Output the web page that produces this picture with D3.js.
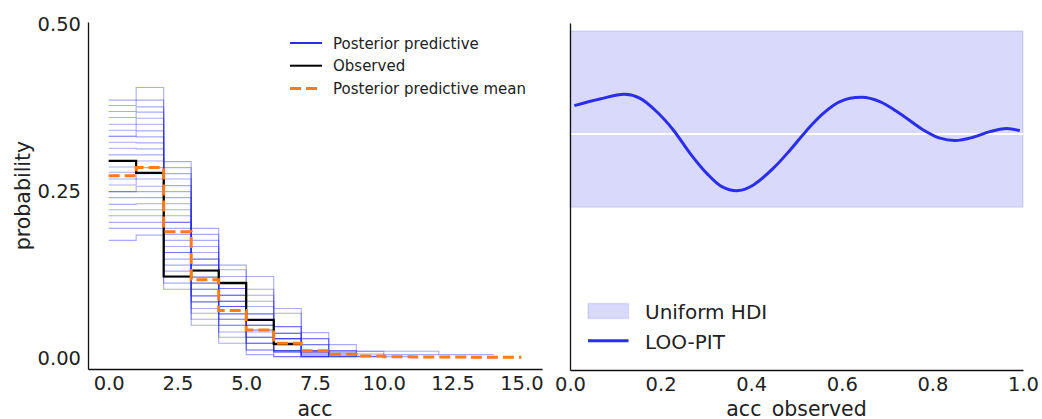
<!DOCTYPE html>
<html>
<head>
<meta charset="utf-8">
<script src="https://cdn.jsdelivr.net/npm/d3@7.9.0/dist/d3.min.js"></script>
<style>
  body { margin: 0; background: #fff; }
  svg text { font-family: "DejaVu Sans", sans-serif; fill: #222; }
</style>
</head>
<body>
<div id="chart"></div>
<script>
// ---- data ----
// observed histogram (bin k covers [k, k+1))
const obsHeights = [0.295, 0.277, 0.122, 0.131, 0.112, 0.057, 0.021];

// posterior predictive mean histogram, bins 0..14
const ppMeanHeights = [0.273, 0.285, 0.189, 0.117, 0.071, 0.042, 0.022, 0.011,
                       0.0055, 0.003, 0.002, 0.0015, 0.0015, 0.001, 0.001];

// posterior predictive draws: one list per bin, draw k = k-th entry (missing = draw ended)
const ppHeights = [
  [0.386, 0.378, 0.369, 0.360, 0.350, 0.341, 0.332, 0.332, 0.323, 0.314, 0.304, 0.286, 0.278, 0.268, 0.259, 0.249, 0.249, 0.240, 0.230, 0.222, 0.213, 0.203, 0.194, 0.176],
  [0.405, 0.386, 0.376, 0.368, 0.359, 0.350, 0.340, 0.331, 0.322, 0.313, 0.304, 0.295, 0.285, 0.276, 0.268, 0.257, 0.249, 0.240, 0.231, 0.222, 0.213, 0.203, 0.194, 0.184],
  [0.294, 0.285, 0.276, 0.268, 0.258, 0.249, 0.240, 0.231, 0.222, 0.213, 0.203, 0.203, 0.194, 0.185, 0.176, 0.167, 0.158, 0.158, 0.148, 0.139, 0.130, 0.121, 0.112, 0.103],
  [0.194, 0.185, 0.176, 0.167, 0.158, 0.148, 0.148, 0.139, 0.139, 0.130, 0.121, 0.121, 0.112, 0.112, 0.103, 0.103, 0.093, 0.093, 0.084, 0.084, 0.074, 0.067, 0.058, 0.049],
  [0.139, 0.132, 0.122, 0.114, 0.104, 0.104, 0.094, 0.094, 0.094, 0.085, 0.085, 0.085, 0.077, 0.077, 0.077, 0.066, 0.066, 0.058, 0.058, 0.049, 0.049, 0.039, 0.031, 0.022],
  [0.122, 0.103, 0.094, 0.085, 0.077, 0.066, 0.066, 0.057, 0.057, 0.049, 0.049, 0.049, 0.042, 0.042, 0.039, 0.031, 0.031, 0.031, 0.022, 0.022, 0.022, 0.012, 0.012, 0.005],
  [0.074, 0.067, 0.047, 0.047, 0.037, 0.037, 0.037, 0.029, 0.029, 0.029, 0.029, 0.020, 0.020, 0.020, 0.020, 0.011, 0.011, 0.011, 0.011, 0.009, 0.009, 0.009, 0.002, 0.002],
  [0.038, 0.029, 0.029, 0.020, 0.020, 0.011, 0.011, 0.011, 0.009, 0.009, 0.009, 0.009, 0.006, 0.006, 0.003, 0.003, 0.002, 0.002, 0.002, 0.002],
  [0.020, 0.011, 0.011, 0.009, 0.009, 0.006, 0.006, 0.003, 0.003, 0.002, 0.002, 0.002],
  [0.010, 0.010, 0.006, 0.003, 0.002, 0.002],
  [0.010, 0.005, 0.002],
  [0.010, 0.005],
  [0.005],
  [0.005]
];
const nDraws = 24;

const accTicks = [0, 2.5, 5, 7.5, 10, 12.5, 15];
const probTicks = [0, 0.25, 0.5];

// LOO-PIT KDE
const looPitX = [0.0096, 0.066, 0.121, 0.155, 0.191, 0.228, 0.265, 0.302, 0.335, 0.372, 0.405, 0.449, 0.486,
                 0.522, 0.559, 0.596, 0.644, 0.684, 0.728, 0.780, 0.817, 0.850, 0.890, 0.927, 0.964, 0.993];
const looPitY = [1.120, 1.148, 1.168, 1.151, 1.095, 1.017, 0.918, 0.833, 0.777, 0.760, 0.784, 0.855, 0.932,
                 1.014, 1.087, 1.137, 1.155, 1.137, 1.087, 1.017, 0.982, 0.972, 0.986, 1.010, 1.023, 1.014];
const uniformHdi = [0.69, 1.436];
const pitTicks = [0, 0.2, 0.4, 0.6, 0.8, 1.0];

// ---- layout ----
const W = 1042, H = 419;
const C0 = "#2a2eec", C1 = "#fa7c17";

const svg = d3.select("#chart").append("svg")
  .attr("width", W).attr("height", H);

// left panel scales
const xL = d3.scaleLinear().domain([-0.75, 15.75]).range([88, 542]);
const yL = d3.scaleLinear().domain([-0.0165, 0.503]).range([369, 22]);

// right panel scales
const xR = d3.scaleLinear().domain([0, 1]).range([570, 1023]);
const yR = d3.scaleLinear().domain([0, 1.47]).range([370, 23]);

function styleAxis(g) {
  g.select(".domain").attr("stroke", "#111").attr("stroke-width", 1.3);
  g.selectAll("text").style("font-size", "19.5px").attr("fill", "#222");
}

// ---- left panel: posterior predictive check ----
const left = svg.append("g");

const stepLine = d3.line()
  .x(d => xL(d[0]))
  .y(d => yL(d[1]))
  .curve(d3.curveStepAfter);

// points for a histogram starting at bin 0: one per bin plus closing edge
function histPoints(heights) {
  const pts = heights.map((h, i) => [i, h]);
  pts.push([heights.length, heights[heights.length - 1]]);
  return pts;
}

d3.range(nDraws).forEach(k => {
  const heights = [];
  for (const bin of ppHeights) {
    if (bin[k] === undefined) break;
    heights.push(bin[k]);
  }
  left.append("path")
    .datum(histPoints(heights))
    .attr("fill", "none")
    .attr("stroke", C0)
    .attr("stroke-opacity", 0.4)
    .attr("stroke-width", 1.1)
    .attr("d", stepLine);
});

left.append("path")
  .datum(histPoints(obsHeights))
  .attr("fill", "none")
  .attr("stroke", "#000")
  .attr("stroke-width", 2.2)
  .attr("d", stepLine);

left.append("path")
  .datum(histPoints(ppMeanHeights))
  .attr("fill", "none")
  .attr("stroke", C1)
  .attr("stroke-width", 3)
  .attr("stroke-dasharray", "11,5")
  .attr("d", stepLine);

left.append("g")
  .attr("transform", "translate(0,369)")
  .call(d3.axisBottom(xL).tickValues(accTicks).tickFormat(d3.format(".1f"))
        .tickSize(0).tickPadding(7))
  .call(styleAxis);

left.append("g")
  .attr("transform", "translate(88,0)")
  .call(d3.axisLeft(yL).tickValues(probTicks).tickFormat(d3.format(".2f"))
        .tickSize(0).tickPadding(7))
  .call(styleAxis);

left.append("text")
  .attr("x", (88 + 542) / 2).attr("y", 416)
  .attr("text-anchor", "middle")
  .style("font-size", "20.5px")
  .text("acc");

left.append("text")
  .attr("transform", `translate(30,${(22 + 369) / 2}) rotate(-90)`)
  .attr("text-anchor", "middle")
  .style("font-size", "20.5px")
  .text("probability");

// left legend
const legL = left.append("g").attr("transform", "translate(290,0)");
const legItems = [
  { label: "Posterior predictive", color: C0, width: 2, dash: null },
  { label: "Observed", color: "#000", width: 2, dash: null },
  { label: "Posterior predictive mean", color: C1, width: 3, dash: "11,5" }
];
legItems.forEach((it, i) => {
  const y = 43 + i * 22.7;
  legL.append("line")
    .attr("x1", 0).attr("x2", 32).attr("y1", y).attr("y2", y)
    .attr("stroke", it.color).attr("stroke-width", it.width)
    .attr("stroke-dasharray", it.dash);
  legL.append("text")
    .attr("x", 43).attr("y", y + 5.5)
    .style("font-size", "15px")
    .text(it.label);
});

// ---- right panel: LOO-PIT ----
const right = svg.append("g");

right.append("rect")
  .attr("x", xR(0)).attr("width", xR(1) - xR(0))
  .attr("y", yR(uniformHdi[1])).attr("height", yR(uniformHdi[0]) - yR(uniformHdi[1]))
  .attr("fill", C0).attr("fill-opacity", 0.18)
  .attr("stroke", C0).attr("stroke-opacity", 0.12).attr("stroke-width", 1.5);

right.append("line")
  .attr("x1", xR(0)).attr("x2", xR(1))
  .attr("y1", yR(1)).attr("y2", yR(1))
  .attr("stroke", "#fff").attr("stroke-width", 2);

right.append("path")
  .datum(d3.zip(looPitX, looPitY))
  .attr("fill", "none")
  .attr("stroke", C0)
  .attr("stroke-width", 3)
  .attr("d", d3.line().x(d => xR(d[0])).y(d => yR(d[1])).curve(d3.curveCatmullRom));

right.append("g")
  .attr("transform", "translate(0,370)")
  .call(d3.axisBottom(xR).tickValues(pitTicks).tickFormat(d3.format(".1f"))
        .tickSize(0).tickPadding(7))
  .call(styleAxis);

right.append("g")
  .attr("transform", "translate(570,0)")
  .call(d3.axisLeft(yR).tickValues([]).tickSize(0))
  .call(styleAxis);

right.append("text")
  .attr("x", (570 + 1023) / 2).attr("y", 416)
  .attr("text-anchor", "middle")
  .style("font-size", "20.5px")
  .text("acc_observed");

// right legend
const legR = right.append("g").attr("transform", "translate(588,0)");
legR.append("rect")
  .attr("x", 0).attr("y", 303.5).attr("width", 40.5).attr("height", 15)
  .attr("fill", C0).attr("fill-opacity", 0.18)
  .attr("stroke", C0).attr("stroke-opacity", 0.12).attr("stroke-width", 1.5);
legR.append("text")
  .attr("x", 57).attr("y", 318.5)
  .style("font-size", "20px")
  .text("Uniform HDI");
legR.append("line")
  .attr("x1", 0).attr("x2", 40.5).attr("y1", 340.7).attr("y2", 340.7)
  .attr("stroke", C0).attr("stroke-width", 3);
legR.append("text")
  .attr("x", 57).attr("y", 348.5)
  .style("font-size", "20px")
  .text("LOO-PIT");
</script>
</body>
</html>
